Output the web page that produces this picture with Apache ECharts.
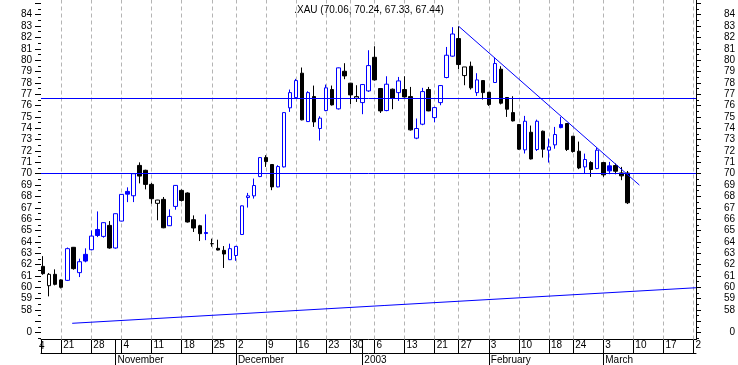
<!DOCTYPE html>
<html><head><meta charset="utf-8">
<script src="https://cdn.jsdelivr.net/npm/echarts@6/dist/echarts.min.js"></script>
<style>html,body{margin:0;padding:0;background:#fff}#c{width:738px;height:365px}</style>
</head><body><div id="c"></div><script>
// ---------- data ----------
const tradingDays = [
 '10/14','10/15','10/16','10/17','10/18','10/21','10/22','10/23','10/24','10/25',
 '10/28','10/29','10/30','10/31','11/01','11/04','11/05','11/06','11/07','11/08',
 '11/11','11/12','11/13','11/14','11/15','11/18','11/19','11/20','11/21','11/22',
 '11/25','11/26','11/27','11/29','12/02','12/03','12/04','12/05','12/06',
 '12/09','12/10','12/11','12/12','12/13','12/16','12/17','12/18','12/19','12/20',
 '12/23','12/24','12/26','12/27','12/30','12/31','01/02','01/03',
 '01/06','01/07','01/08','01/09','01/10','01/13','01/14','01/15','01/16','01/17',
 '01/21','01/22','01/23','01/24','01/27','01/28','01/29','01/30','01/31',
 '02/03','02/04','02/05','02/06','02/07','02/10','02/11','02/12','02/13','02/14',
 '02/18','02/19','02/20','02/21','02/24','02/25','02/26','02/27','02/28',
 '03/03','03/04','03/05','03/06','03/07','03/10','03/11','03/12','03/13','03/14',
 '03/17','03/18','03/19','03/20','03/21','03/24'
];
const firstCandleDay = '10/16';
const open = [
 61.84,60.14,61.14,
 60.65,60.61,63.52,61.29,62.90,
 63.31,65.09,64.48,65.45,63.46,
 65.83,68.44,68.06,70.73,70.30,
 69.06,67.39,67.74,65.42,67.12,
 68.53,68.30,65.95,65.42,64.82,
 63.84,63.43,63.25,62.43,
 62.80,64.65,67.90,68.05,69.75,
 71.42,70.81,68.84,70.60,75.80,
 76.70,78.85,74.59,76.79,73.98,
 75.56,77.41,75.71,79.02,
 77.97,76.65,76.26,77.29,
 80.25,77.50,75.56,77.44,77.14,
 77.41,76.79,73.13,74.36,77.41,
 74.94,76.26,78.47,80.35,
 81.90,78.64,79.46,77.14,78.20,
 77.17,78.03,79.20,76.71,75.38,
 74.33,72.10,73.65,72.13,73.74,
 72.07,72.54,74.33,74.42,
 73.30,71.98,70.60,70.98,70.45,
 70.98,70.69,70.72,70.07,70.06
];
const high = [
 62.74,61.26,61.58,
 60.70,63.50,63.55,62.52,63.43,
 65.01,66.68,65.72,65.83,66.50,
 68.20,68.80,70.02,71.00,70.35,
 69.18,67.70,67.95,66.86,69.00,
 68.62,68.36,66.33,65.50,66.42,
 64.28,64.19,63.63,63.84,
 63.64,67.20,68.31,69.57,71.45,
 71.63,70.85,70.75,75.40,77.41,
 78.35,79.35,77.26,77.76,75.06,
 77.85,77.76,79.35,79.73,
 78.00,77.79,77.90,80.87,
 81.22,77.52,78.58,77.50,78.52,
 78.58,77.64,74.86,77.56,77.64,
 75.90,77.80,81.16,82.90,
 82.98,79.40,79.87,78.85,78.22,
 77.20,80.23,79.46,76.75,76.82,
 74.35,75.09,74.24,74.76,73.80,
 73.10,74.12,75.00,74.45,
 73.30,72.83,71.77,71.10,72.27,
 71.00,71.04,70.90,70.60,70.24
];
const low = [
 61.10,59.20,60.17,
 59.90,60.55,61.55,60.90,62.20,
 63.25,64.42,64.37,63.40,63.40,
 65.80,67.50,67.50,69.15,68.62,
 67.36,65.90,65.20,65.40,66.83,
 67.55,65.70,64.87,64.07,64.15,
 63.57,63.25,61.70,62.40,
 62.33,64.60,67.02,67.81,69.70,
 70.60,68.55,68.80,70.55,75.44,
 76.60,74.70,74.55,74.12,72.92,
 75.50,76.00,75.65,78.32,
 76.12,76.32,75.24,77.20,
 78.20,75.35,75.50,75.68,76.41,
 76.70,73.80,73.04,74.27,75.50,
 74.53,76.03,78.40,80.30,
 79.20,77.79,77.41,76.85,76.53,
 75.97,78.00,76.10,75.00,74.60,
 72.10,71.78,71.25,72.00,71.42,
 70.98,72.20,74.00,72.00,
 71.86,70.40,70.00,69.72,70.40,
 69.72,69.96,69.95,69.43,67.33
];
const close = [
 61.20,61.14,60.26,
 60.00,63.40,61.64,62.25,62.31,
 64.51,64.56,65.69,63.46,66.48,
 68.18,68.20,70.00,69.79,69.06,
 67.80,67.68,65.24,66.24,68.97,
 67.65,65.75,65.22,64.72,64.74,
 63.84,63.28,62.93,63.40,
 63.60,67.17,68.05,68.96,71.42,
 71.07,68.84,70.63,75.38,77.14,
 78.20,74.74,77.14,74.56,74.89,
 77.56,76.06,79.32,78.61,
 76.94,76.79,77.85,79.52,
 78.26,75.53,77.88,76.65,78.17,
 76.76,73.86,73.98,77.23,75.53,
 75.82,77.76,80.43,82.30,
 79.61,79.40,77.56,78.26,77.14,
 76.09,79.70,76.21,75.68,74.65,
 72.16,74.62,71.30,74.62,72.16,
 72.36,73.45,74.06,72.13,
 71.95,70.51,71.25,70.37,72.07,
 69.90,70.25,70.22,69.81,67.44
];
const weekTickDays = ['10/14','10/21','10/28','11/04','11/11','11/18','11/25','12/02','12/09','12/16','12/23','12/30',
 '01/06','01/13','01/21','01/27','02/03','02/10','02/18','02/24','03/03','03/10','03/17','03/24'];
const weekLabels = ['14','21','28','4','11','18','25','2','9','16','23','30','6','13','21','27','3','10','18','24','3','10','17','2'];
const monthTickDays = ['11/01','12/02','01/02','02/03','03/03'];
const monthLabels = ['November','December','2003','February','March'];
const levelLines = [76.62, 70.00];
const trendDown = [['01/27', 82.98], ['03/11', 69.00]];
const trendUpStart = ['10/23', 56.83, -0.18];   // day, value, fractional day offset
const trendUpEnd = ['03/24', 59.96, 0.4];
const yLabelValues = [56,58,59,60,61,62,63,64,65,66,67,68,69,70,71,72,73,74,75,76,77,78,79,80,81,82,83,84];
const yLabelText = {56: '0'};
const symbol = '.XAU';

// ---------- build ----------
const pos = d => tradingDays.indexOf(d);
const X_MIN = 1.64, X_MAX = 110.4, Y_MIN = 55.403, Y_MAX = 85.294;
const BLUE = '#0000ff', BLACK = '#000000';
const FONT = 'Liberation Sans, Arial, sans-serif';
const first = pos(firstCandleDay);
const items = open.map((o, i) => {
  const c = close[i];
  const prev = i > 0 ? close[i - 1] : Infinity;
  const col = c > prev ? BLUE : BLACK;
  const fill = c > o ? '#ffffff' : col;
  return { value: [first + i, o, c, low[i], high[i]],
    itemStyle: { color: fill, color0: fill, borderColor: col, borderColor0: col, borderColorDoji: col } };
});
const n = close.length - 1;
const title = `${symbol} (${open[n].toFixed(2)}, ${high[n].toFixed(2)}, ${low[n].toFixed(2)}, ${close[n].toFixed(2)})`;

const weekPos = weekTickDays.map(pos);
const weekLabelMap = {}; weekPos.forEach((p, i) => weekLabelMap[p] = weekLabels[i]);
const monthPos = monthTickDays.map(pos);
const monthLabelMap = {}; monthPos.forEach((p, i) => monthLabelMap[p] = monthLabels[i]);
const inRange = v => v >= X_MIN && v <= X_MAX;
const yMajor = []; for (let v = 56; v <= 85; v++) yMajor.push(v);
const yMinor = []; for (let v = 55.5; v <= 85; v += 1) yMinor.push(v);

const yBase = (pos_, extra) => Object.assign({
  type: 'value', position: pos_, min: Y_MIN, max: Y_MAX, splitLine: { show: false },
  axisLine: { show: false }
}, extra);

const chart = echarts.init(document.getElementById('c'), null, { renderer: 'canvas' });
chart.setOption({
  animation: false,
  backgroundColor: '#ffffff',
  title: { text: title, left: 'center', top: 0, padding: [5, 5],
    textStyle: { fontSize: 10, fontWeight: 'normal', fontFamily: FONT, color: '#000' } },
  grid: { left: 41, right: 40.7, top: 0, bottom: 25.5, containLabel: false },
  xAxis: [
    { type: 'value', min: X_MIN, max: X_MAX, position: 'bottom',
      axisLine: { show: true, lineStyle: { color: BLACK, width: 1 } },
      axisTick: { show: true, length: 13.5, lineStyle: { color: BLACK },
        customValues: [X_MIN].concat(weekPos.filter(inRange), monthPos) },
      axisLabel: { show: true, customValues: weekPos.filter(inRange), formatter: v => weekLabelMap[v] || '',
        align: 'left', padding: [0, 0, 0, 2], margin: 1, fontSize: 10, fontFamily: FONT, color: '#000',
        showMinLabel: true, showMaxLabel: true, hideOverlap: false },
      splitLine: { show: false } },
    { type: 'value', min: X_MIN, max: X_MAX, position: 'bottom', offset: 13.5,
      axisLine: { show: true, lineStyle: { color: BLACK, width: 1 } },
      axisTick: { show: true, length: 12, lineStyle: { color: BLACK }, customValues: monthPos },
      axisLabel: { show: true, customValues: monthPos, formatter: v => monthLabelMap[v] || '',
        align: 'left', padding: [0, 0, 0, 2], margin: 2, fontSize: 10, fontFamily: FONT, color: '#000' },
      splitLine: { show: false } }
  ],
  yAxis: [
    yBase('left', { axisTick: { show: true, length: 6, customValues: yMajor, lineStyle: { color: BLACK } },
      axisLabel: { customValues: yLabelValues, formatter: v => yLabelText[v] || String(v), margin: 9,
        fontSize: 10, fontFamily: FONT, color: '#000' } }),
    yBase('left', { axisTick: { show: true, length: 3, customValues: yMinor, lineStyle: { color: BLACK } },
      axisLabel: { show: false } }),
    yBase('right', { axisLine: { show: true, lineStyle: { color: BLACK } },
      axisTick: { show: true, length: 5, customValues: yMajor, lineStyle: { color: BLACK } },
      axisLabel: { customValues: yLabelValues, formatter: v => yLabelText[v] || String(v), margin: 39, align: 'right',
        fontSize: 10, fontFamily: FONT, color: '#000' } }),
    yBase('right', { axisTick: { show: true, length: 3, customValues: yMinor, lineStyle: { color: BLACK } },
      axisLabel: { show: false } })
  ],
  series: [
    { type: 'line', name: 'support', xAxisIndex: 0, yAxisIndex: 0, z: 1, silent: true, symbol: 'none',
      data: [[pos(trendUpStart[0]) + trendUpStart[2], trendUpStart[1]], [pos(trendUpEnd[0]) + trendUpEnd[2], trendUpEnd[1]]],
      lineStyle: { color: BLUE, width: 1 },
      markLine: { silent: true, z: 1, symbol: ['none', 'none'], label: { show: false }, animation: false,
        lineStyle: { type: [4, 3], color: '#b4b4b4', width: 1 },
        emphasis: { disabled: true },
        data: weekPos.filter(inRange).map(v => ({ xAxis: v })) } },
    { type: 'candlestick', name: 'XAU', xAxisIndex: 0, yAxisIndex: 0, z: 3, silent: true,
      barWidth: 4, data: items, itemStyle: { borderWidth: 1 } },
    { type: 'line', name: 'resistance', xAxisIndex: 0, yAxisIndex: 0, z: 4, silent: true, symbol: 'none',
      data: trendDown.map(d => [pos(d[0]), d[1]]),
      lineStyle: { color: BLUE, width: 1 },
      markLine: { silent: true, z: 4, symbol: ['none', 'none'], label: { show: false }, animation: false,
        lineStyle: { type: 'solid', color: BLUE, width: 1 }, emphasis: { disabled: true },
        data: levelLines.map(v => ({ yAxis: v })) } }
  ],
  graphic: [
    { type: 'text', left: 39, top: 341, silent: true,
      style: { text: weekLabels[0].slice(-1), font: '10px ' + FONT, fill: '#000' } }
  ]
});
</script></body></html>
